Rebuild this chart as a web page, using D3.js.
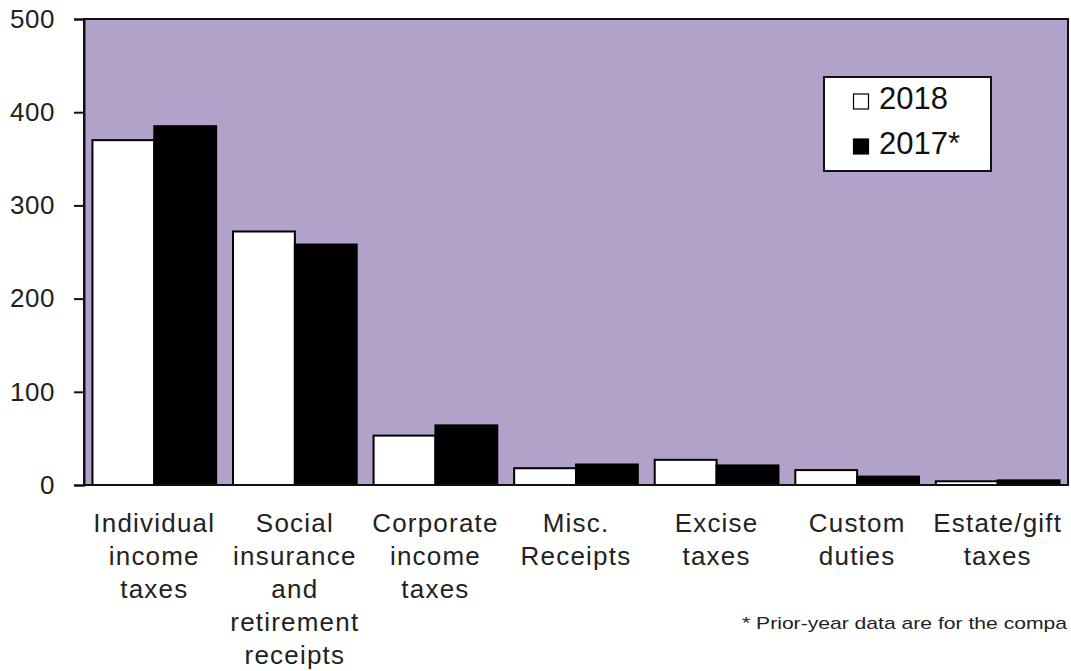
<!DOCTYPE html>
<html>
<head>
<meta charset="utf-8">
<script src="https://cdn.jsdelivr.net/npm/d3@7"></script>
<style>
  html, body { margin: 0; padding: 0; background: #fff; }
  svg { display: block; font-family: "Liberation Sans", Arial, sans-serif; }
</style>
</head>
<body>
<svg id="chart" width="1071" height="671"></svg>
<script>
// Federal receipts by source, two fiscal years
const categories = [
  ["Individual", "income", "taxes"],
  ["Social", "insurance", "and", "retirement", "receipts"],
  ["Corporate", "income", "taxes"],
  ["Misc.", "Receipts"],
  ["Excise", "taxes"],
  ["Custom", "duties"],
  ["Estate/gift", "taxes"]
];
const seriesNames = ["2018", "2017*"];
const values2018 = [370, 272, 53, 18, 27, 16, 4];
const values2017 = [385, 258, 64, 22, 21, 9, 5];
const yTicks = [0, 100, 200, 300, 400, 500];
const footnote = "* Prior-year data are for the compa";

const seriesFill = { "2018": "#ffffff", "2017*": "#000000" };
const plotFill = "#b2a2c9";
const textColor = "#222";

const svg = d3.select("#chart");
const plotLeft = 84, plotRight = 1068, plotTop = 19, plotBottom = 485;

const keys = categories.map(c => c.join(" "));
const rows = keys.map((k, i) => ({ key: k, lines: categories[i], "2018": values2018[i], "2017*": values2017[i] }));

const x0 = d3.scaleBand().domain(keys).range([plotLeft, plotRight]).paddingInner(0.12).paddingOuter(0.06);
const x1 = d3.scaleBand().domain(seriesNames).range([0, x0.bandwidth()]);
const y = d3.scaleLinear().domain([0, 500]).range([plotBottom, plotTop]);

// plot background
svg.append("rect")
  .attr("x", plotLeft).attr("y", plotTop)
  .attr("width", plotRight - plotLeft).attr("height", plotBottom - plotTop)
  .attr("fill", plotFill);

// bars
const groups = svg.append("g").selectAll("g")
  .data(rows).join("g")
  .attr("transform", d => `translate(${x0(d.key)},0)`);

groups.selectAll("rect")
  .data(d => seriesNames.map(s => ({ s, v: d[s] })))
  .join("rect")
  .attr("x", d => x1(d.s))
  .attr("y", d => y(d.v))
  .attr("width", x1.bandwidth())
  .attr("height", d => y(0) - y(d.v))
  .attr("fill", d => seriesFill[d.s])
  .attr("stroke", "#000")
  .attr("stroke-width", 2);

// frame
svg.append("rect")
  .attr("x", plotLeft).attr("y", plotTop)
  .attr("width", plotRight - plotLeft).attr("height", plotBottom - plotTop)
  .attr("fill", "none")
  .attr("stroke", "#111")
  .attr("stroke-width", 2);

// y axis
const yAxis = svg.append("g")
  .attr("transform", `translate(${plotLeft},0)`)
  .call(d3.axisLeft(y).tickValues(yTicks).tickSize(10).tickPadding(19));
yAxis.select(".domain").attr("stroke", "#111").attr("stroke-width", 2);
yAxis.selectAll(".tick line").attr("stroke", "#111").attr("stroke-width", 2);
yAxis.selectAll(".tick text")
  .attr("fill", textColor)
  .style("font-size", "26px")
  .style("letter-spacing", "0.5px")
  .style("font-family", "'Liberation Sans', Arial, sans-serif");

// category labels
const catLabels = svg.append("g").selectAll("text")
  .data(rows).join("text")
  .attr("x", d => x0(d.key) + x0.bandwidth() / 2)
  .attr("y", 532)
  .attr("text-anchor", "middle")
  .attr("fill", textColor)
  .style("font-size", "26px")
  .style("letter-spacing", "1.2px");
catLabels.selectAll("tspan")
  .data(d => d.lines.map(l => ({ l, cx: x0(d.key) + x0.bandwidth() / 2 })))
  .join("tspan")
  .attr("x", d => d.cx)
  .attr("dy", (d, i) => i === 0 ? 0 : 33)
  .text(d => d.l);

// legend
const legend = svg.append("g");
legend.append("rect")
  .attr("x", 824).attr("y", 77)
  .attr("width", 167).attr("height", 94)
  .attr("fill", "#fff")
  .attr("stroke", "#111")
  .attr("stroke-width", 2);
const items = legend.selectAll("g.item")
  .data(seriesNames).join("g")
  .attr("class", "item")
  .attr("transform", (d, i) => `translate(853,${109 + i * 45})`);
items.append("rect")
  .attr("x", 0.5).attr("y", -15)
  .attr("width", 15).attr("height", 15)
  .attr("fill", d => seriesFill[d])
  .attr("stroke", "#000")
  .attr("stroke-width", 1.2);
items.append("text")
  .attr("x", 26).attr("y", 0)
  .attr("fill", "#111")
  .style("font-size", "31px")
  .text(d => d);

// footnote
svg.append("text")
  .attr("x", 742).attr("y", 629)
  .attr("fill", textColor)
  .attr("textLength", 325)
  .attr("lengthAdjust", "spacingAndGlyphs")
  .style("font-size", "17px")
  .text(footnote);
</script>
</body>
</html>
